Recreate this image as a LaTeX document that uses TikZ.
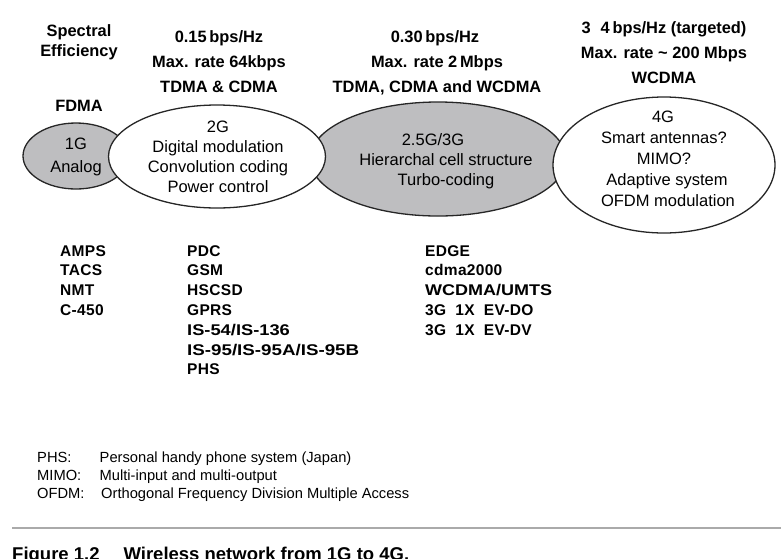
\documentclass[tikz,border=0pt]{standalone}
\usepackage{fontspec}
\setmainfont{Liberation Sans}
\usetikzlibrary{shapes.geometric}
\definecolor{ellgray}{RGB}{190,190,192}
\definecolor{rulegray}{RGB}{170,170,170}
\begin{document}
\begin{tikzpicture}[x=1pt,y=-1pt,
  hdr/.style={anchor=base, font=\fontsize{16.4}{19}\selectfont\bfseries, inner sep=0pt},
  lst/.style={anchor=base west, font=\fontsize{15.5}{18}\selectfont\bfseries\addfontfeature{LetterSpace=2}, inner sep=0pt},
  lstw/.style={anchor=base west, font=\fontsize{15.5}{18}\selectfont\bfseries\addfontfeature{FakeStretch=#1}, inner sep=0pt},
  etx/.style={anchor=base, font=\fontsize{16.5}{19}\selectfont, inner sep=0pt},
  fn/.style={anchor=base west, font=\fontsize{14.7}{16}\selectfont, inner sep=0pt},
  gen/.style={ellipse, draw=black!85, line width=1.3pt, inner sep=0pt}]
\path[use as bounding box] (0,0) rectangle (781,558);
\clip (0,0) rectangle (781,558);

% ellipses (draw order: 1G, 3G, 2G, 4G)
\node[gen, fill=ellgray, minimum width=106, minimum height=66] (g1) at (76,156) {};
\node[gen, fill=ellgray, minimum width=256, minimum height=114] (g3) at (438,159) {};
\node[gen, fill=white, minimum width=217, minimum height=103] (g2) at (217,156.5) {};
\node[gen, fill=white, minimum width=222, minimum height=136] (g4) at (664,165) {};

% headers
\node[hdr] (se1) at (79,36) {Spectral};
\node[hdr] (se2) at (79,56) {Efficiency};
\node[hdr] (fdma) at (79,111) {FDMA};

\node[hdr] (h2a) at (219,42.5) {0.15\,bps/Hz};
\node[hdr] (h2b) at (219,67) {Max. rate 64kbps};
\node[hdr] (h2c) at (219,92) {TDMA \& CDMA};

\node[hdr] (h3a) at (435,42.5) {0.30\,bps/Hz};
\node[hdr] (h3b) at (437,67) {Max. rate 2\,Mbps};
\node[hdr] (h3c) at (437,92) {TDMA, CDMA and WCDMA};

\node[hdr] (h4a) at (664,33) {3\hspace{10pt}4\,bps/Hz (targeted)};
\node[hdr] (h4b) at (664,58) {Max. rate \textasciitilde{} 200 Mbps};
\node[hdr] (h4c) at (664,83) {WCDMA};

% ellipse texts
\node[etx] (t1a) at (76,149) {1G};
\node[etx] (t1b) at (76,172) {Analog};

\node[etx] (t2a) at (218,132) {2G};
\node[etx] (t2b) at (218,152) {Digital modulation};
\node[etx] (t2c) at (218,172) {Convolution coding};
\node[etx] (t2d) at (218,192) {Power control};

\node[etx] (t3a) at (433,145) {2.5G/3G};
\node[etx] (t3b) at (446,165) {Hierarchal cell structure};
\node[etx] (t3c) at (446,185) {Turbo-coding};

\node[etx] (t4a) at (663,122.5) {4G};
\node[etx] (t4b) at (664,143.5) {Smart antennas?};
\node[etx] (t4c) at (664,164) {MIMO?};
\node[etx] (t4d) at (667,185) {Adaptive system};
\node[etx] (t4e) at (668,206) {OFDM modulation};

% system lists
\node[lst] (l1a) at (60,256) {AMPS};
\node[lst] (l1b) at (60,275.8) {TACS};
\node[lst] (l1c) at (60,295.6) {NMT};
\node[lst] (l1d) at (60,315.4) {C-450};

\node[lst] (l2a) at (187,256) {PDC};
\node[lst] (l2b) at (187,275.8) {GSM};
\node[lst] (l2c) at (187,295.6) {HSCSD};
\node[lst] (l2d) at (187,315.4) {GPRS};
\node[lstw=1.18] (l2e) at (187,335.2) {IS-54/IS-136};
\node[lstw=1.21] (l2f) at (187,355) {IS-95/IS-95A/IS-95B};
\node[lst] (l2g) at (187,374.8) {PHS};

\node[lst] (l3a) at (425,256) {EDGE};
\node[lst] (l3b) at (425,275.8) {cdma2000};
\node[lstw=1.16] (l3c) at (425,295.6) {WCDMA/UMTS};
\node[lst] (l3d) at (425,315.4) {3G\ \ 1X\ \ EV-DO};
\node[lst] (l3e) at (425,335.2) {3G\ \ 1X\ \ EV-DV};

% footnotes
\node[fn] (f1a) at (37,462) {PHS:};
\node[fn] (f1b) at (99.5,462) {Personal handy phone system (Japan)};
\node[fn] (f2a) at (37,480) {MIMO:};
\node[fn] (f2b) at (99.5,480) {Multi-input and multi-output};
\node[fn] (f3a) at (37,498.3) {OFDM:};
\node[fn] (f3b) at (101,498.3) {Orthogonal Frequency Division Multiple Access};

% rule and caption
\coordinate (rl) at (12,528);
\coordinate (rr) at (781,528);
\draw[rulegray, line width=2pt] (rl) -- (rr);
\node[anchor=base west, inner sep=0pt, font=\fontsize{18.5}{20}\selectfont\bfseries] (cap) at (12,560.5) {Figure 1.2\hspace{24pt}Wireless network from 1G to 4G.};
\end{tikzpicture}
\end{document}
